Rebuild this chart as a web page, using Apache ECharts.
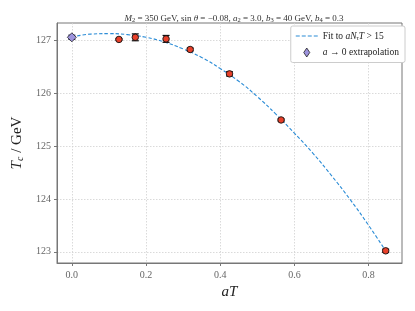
<!DOCTYPE html>
<html>
<head>
<meta charset="utf-8">
<script src="https://cdn.jsdelivr.net/npm/echarts@6/dist/echarts.min.js"></script>
<style>html,body{margin:0;padding:0;background:#fff}#c{width:415px;height:311px}</style>
</head>
<body>
<div id="c"></div>
<script>
// Lattice data points (aT, Tc, error)
const latticeX = [0.127, 0.171, 0.254, 0.319, 0.425, 0.564, 0.846];
const latticeY = [127.01, 127.05, 127.02, 126.82, 126.36, 125.49, 123.02];
const latticeErr = [0.015, 0.065, 0.065, 0.025, 0.04, 0.02, 0.03];
// a -> 0 extrapolation
const extrapX = [0.0];
const extrapY = [127.05];
const extrapErr = [0.04];
// Fit curve
const fitX = [0, 0.05, 0.1, 0.15, 0.2, 0.25, 0.3, 0.35, 0.4, 0.45, 0.5, 0.55, 0.6, 0.65, 0.7, 0.75, 0.8, 0.846];
const fitY = [127.05, 127.11, 127.12, 127.10, 127.05, 126.96, 126.83, 126.67, 126.46, 126.22, 125.93, 125.60, 125.24, 124.86, 124.44, 123.99, 123.50, 123.02];
// Tick labels
const xTicks = [0.0, 0.2, 0.4, 0.6, 0.8];
const yTicks = [123, 124, 125, 126, 127];

const serif = 'Liberation Serif';
const chart = echarts.init(document.getElementById('c'), null, {renderer: 'canvas'});

function errData(xs, ys, es) { return xs.map((x, i) => [x, ys[i], es[i]]); }
function errRender(color) {
  return function (params, api) {
    const x = api.value(0), y = api.value(1), e = api.value(2);
    const top = api.coord([x, y + e]);
    const bot = api.coord([x, y - e]);
    const hw = 3.5;
    const style = {stroke: color, lineWidth: 1.2};
    return {
      type: 'group',
      children: [
        {type: 'line', shape: {x1: top[0], y1: top[1], x2: bot[0], y2: bot[1]}, style},
        {type: 'line', shape: {x1: top[0] - hw, y1: top[1], x2: top[0] + hw, y2: top[1]}, style},
        {type: 'line', shape: {x1: bot[0] - hw, y1: bot[1], x2: bot[0] + hw, y2: bot[1]}, style}
      ]
    };
  };
}

const axisCommon = {
  axisLine: {show: true, onZero: false, lineStyle: {color: '#777', width: 1}},
  axisTick: {show: true, inside: false, length: 3, lineStyle: {color: '#777'}},
  splitLine: {show: true, lineStyle: {color: '#d0d0d0', type: [1.5, 1.5], width: 0.8}},
  axisLabel: {color: '#666', fontFamily: serif, fontSize: 10}
};

chart.setOption({
  animation: false,
  backgroundColor: '#fff',
  title: {
    text: '{i|M}{s|2} = 350 GeV, sin {i|θ} = −0.08, {i|a}{s|2} = 3.0, {i|b}{s|3} = 40 GeV, {i|b}{s|4} = 0.3',
    left: 229, top: 8, textAlign: 'center',
    textStyle: {
      fontFamily: serif, fontSize: 9, fontWeight: 'normal', color: '#333',
      rich: {
        i: {fontFamily: serif, fontSize: 9, fontStyle: 'italic', color: '#333'},
        s: {fontFamily: serif, fontSize: 6.5, color: '#333', padding: [4, 0, 0, 0]}
      }
    }
  },
  grid: {left: 57, right: 13, top: 23, bottom: 48, show: true, borderColor: '#777', borderWidth: 1, backgroundColor: 'transparent'},
  legend: {
    right: 10, top: 26,
    orient: 'vertical',
    itemWidth: 22, itemHeight: 9, itemGap: 6,
    padding: [5, 6, 5, 5],
    borderColor: '#ccc', borderWidth: 1, borderRadius: 2,
    backgroundColor: '#fff',
    data: [
      {name: 'fit', icon: 'path://M0,4 L4,4 L4,5 L0,5 Z M6,4 L10,4 L10,5 L6,5 Z M12,4 L16,4 L16,5 L12,5 Z M18,4 L22,4 L22,5 L18,5 Z', itemStyle: {color: '#2b8cd6'}},
      {name: 'extrap', icon: 'path://M5,1.5 L8,6 L5,10.5 L2,6 Z', itemStyle: {color: '#9d93dd', borderColor: '#222', borderWidth: 0.8}}
    ],
    formatter: function (n) {
      if (n === 'fit') return 'Fit to {i|aN}{s|τ}{i|T} > 15';
      return '{i|a} → 0 extrapolation';
    },
    textStyle: {
      fontFamily: serif, fontSize: 9.5, color: '#222',
      rich: {
        i: {fontFamily: serif, fontSize: 9.5, fontStyle: 'italic', color: '#222'},
        s: {fontFamily: serif, fontSize: 6.5, fontStyle: 'italic', color: '#222', padding: [4, 0, 0, 0]}
      }
    }
  },
  xAxis: Object.assign({}, axisCommon, {
    type: 'value', min: -0.04, max: 0.89,
    axisTick: Object.assign({}, axisCommon.axisTick, {customValues: xTicks}),
    axisLabel: Object.assign({}, axisCommon.axisLabel, {customValues: xTicks, margin: 7, formatter: v => v.toFixed(1)}),
    name: '{i|aT}', nameLocation: 'middle', nameGap: 19,
    nameTextStyle: {rich: {i: {fontFamily: serif, fontSize: 15, fontStyle: 'italic', color: '#222'}}}
  }),
  yAxis: Object.assign({}, axisCommon, {
    type: 'value', min: 122.79, max: 127.32,
    axisTick: Object.assign({}, axisCommon.axisTick, {customValues: yTicks}),
    axisLabel: Object.assign({}, axisCommon.axisLabel, {customValues: yTicks, margin: 6, formatter: v => String(Math.round(v))}),
    name: '{i|T}{s|c} / GeV', nameLocation: 'middle', nameGap: 25, nameRotate: 90,
    nameTextStyle: {
      fontFamily: serif, fontSize: 15, color: '#222',
      rich: {
        i: {fontFamily: serif, fontSize: 15, fontStyle: 'italic', color: '#222'},
        s: {fontFamily: serif, fontSize: 10, fontStyle: 'italic', color: '#222', padding: [6, 0, 0, 0]}
      }
    }
  }),
  series: [
    {
      name: 'fit', type: 'line', data: fitX.map((x, i) => [x, fitY[i]]),
      smooth: true, symbol: 'none', z: 2,
      lineStyle: {color: '#2b8cd6', width: 1.1, type: [3.5, 2]}
    },
    {
      name: 'latErr', type: 'custom', renderItem: errRender('#111'),
      data: errData(latticeX, latticeY, latticeErr), z: 3, silent: true
    },
    {
      name: 'lat', type: 'scatter', data: latticeX.map((x, i) => [x, latticeY[i]]),
      symbol: 'circle', symbolSize: 6.5, z: 4,
      itemStyle: {color: '#e8402a', borderColor: '#111', borderWidth: 0.9, opacity: 1}
    },
    {
      name: 'extrapErr', type: 'custom', renderItem: errRender('#222255'),
      data: errData(extrapX, extrapY, extrapErr), z: 3, silent: true
    },
    {
      name: 'extrap', type: 'scatter', data: extrapX.map((x, i) => [x, extrapY[i]]),
      symbol: 'diamond', symbolSize: 9, z: 4,
      itemStyle: {color: '#9d93dd', borderColor: '#222', borderWidth: 0.8, opacity: 1}
    }
  ]
});
</script>
</body>
</html>
